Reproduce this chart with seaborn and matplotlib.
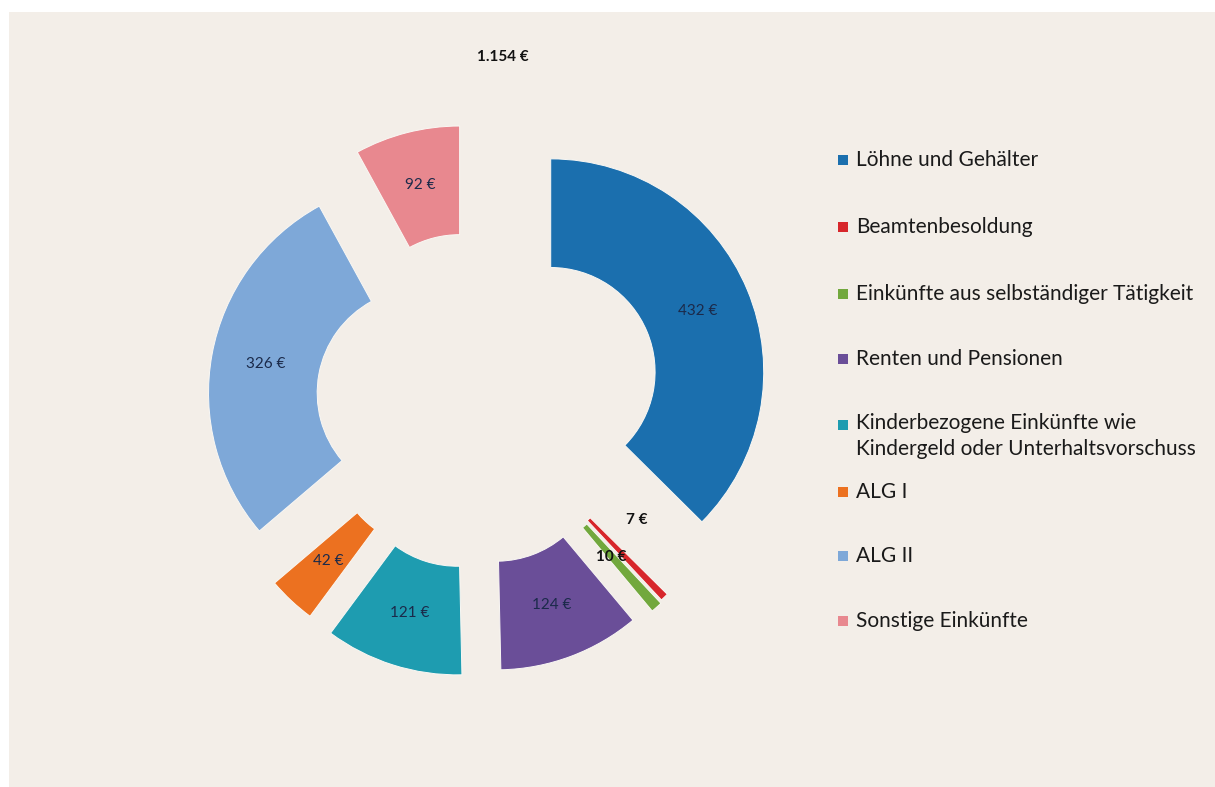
import numpy as np
import matplotlib
matplotlib.use('Agg')
import matplotlib.pyplot as plt
import seaborn as sns

# data
categories = ['Löhne und Gehälter', 'Beamtenbesoldung',
              'Einkünfte aus selbständiger Tätigkeit', 'Renten und Pensionen',
              'Kinderbezogene Einkünfte wie\nKindergeld oder Unterhaltsvorschuss',
              'ALG I', 'ALG II', 'Sonstige Einkünfte']
values = [432, 7, 10, 124, 121, 42, 326, 92]
total_label = '1.154 €'

# style
colors = ['#1B6FAE', '#D7262B', '#72A83D', '#6A4E98',
          '#1E9CB0', '#EC7120', '#7EA8D8', '#E8888F']
explode = [0.38, 0.27, 0.28, 0.27, 0.29, 0.27, 0.26, 0.31]
bg = '#F3EEE8'
txt_dark = '#1B2A4A'

sns.set_theme(style='white')
plt.rcParams['font.family'] = ['Lato', 'DejaVu Sans']
pal = sns.color_palette(colors)

W, H = 1215, 787
fig = plt.figure(figsize=(W / 100, H / 100), dpi=100, facecolor='white')
# beige panel
fig.patches.append(plt.Rectangle((9 / W, 0), 1, 1 - 12 / H, transform=fig.transFigure,
                                 facecolor=bg, edgecolor='none', zorder=-5))

# donut axes: centre (476, 405) px, outer radius 213 px
cx, cy, R, box = 476, 403, 213, 600
ax = fig.add_axes([(cx - box / 2) / W, (H - cy - box / 2) / H, box / W, box / H])
ax.set_facecolor('none')
ax.set_zorder(2)

def fmt(p):
    return f'{int(round(p * sum(values) / 100))} €'

wedges, texts, autotexts = ax.pie(values, colors=pal, explode=explode, radius=1,
                                  startangle=90, counterclock=False,
                                  autopct=fmt, pctdistance=0.745,
                                  wedgeprops=dict(width=0.51, edgecolor='#FAF8F4', linewidth=0.7),
                                  textprops=dict(color=txt_dark, fontsize=11))
half = box / 2 / R
ax.set_xlim(-half, half)
ax.set_ylim(-half, half)
ax.set_aspect('equal')
ax.axis('off')

# small slices: labels sit next to the thin bars
def px2data(x, y):
    return (x - cx) / R, (cy - y) / R
autotexts[1].set_position(px2data(637, 520))
autotexts[2].set_position(px2data(611, 557))
for t in autotexts[1:3]:
    t.set_color('#111111')
    t.set_fontweight('bold')

# total
fig.text(503 / W, 1 - 57 / H, total_label, ha='center', va='center',
         fontsize=11, fontweight='bold', color='#111111')

# legend
leg_y = [160, 227, 294, 359, 425, 492, 556, 621]
for name, col, y in zip(categories, colors, leg_y):
    fig.patches.append(plt.Rectangle((838 / W, 1 - (y + 5) / H), 10 / W, 10 / H,
                                     transform=fig.transFigure, facecolor=col,
                                     edgecolor='none', zorder=1))
    if '\n' in name:
        fig.text(856 / W, 1 - (y - 12) / H, name, ha='left', va='top',
                 fontsize=15, color='#1A1A1A', linespacing=1.4)
    else:
        fig.text(856 / W, 1 - y / H, name, ha='left', va='center',
                 fontsize=15, color='#1A1A1A')

fig.savefig('out.png', dpi=100, facecolor='white')
